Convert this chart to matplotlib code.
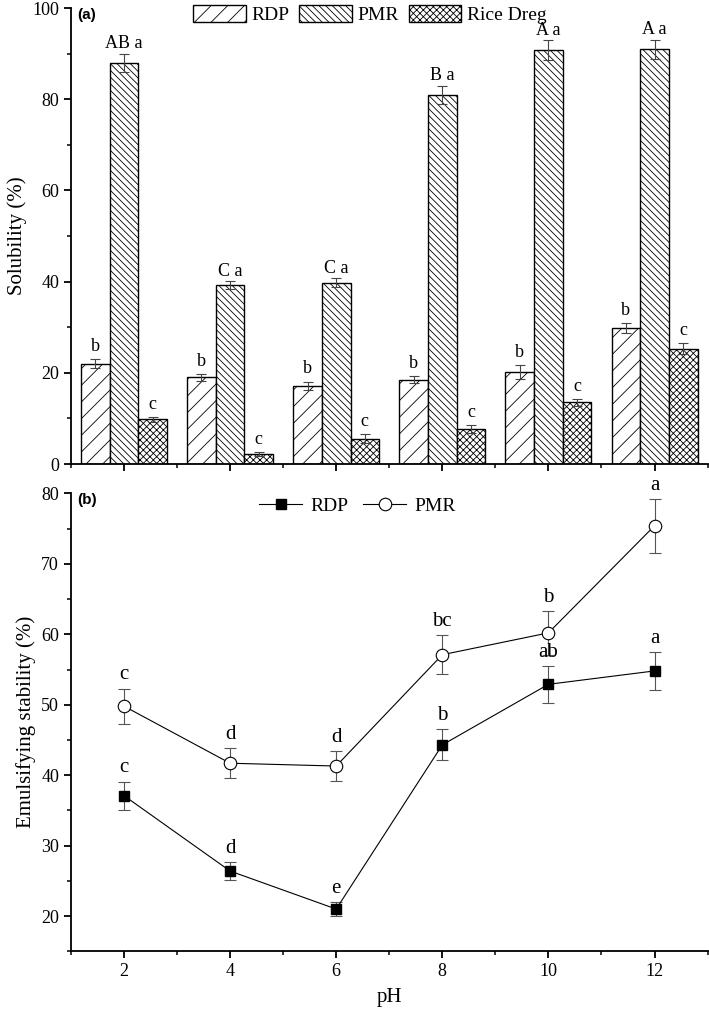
import numpy as np
import matplotlib
matplotlib.use("Agg")
import matplotlib.pyplot as plt
from matplotlib.ticker import MultipleLocator
from matplotlib.patches import Patch
from matplotlib.lines import Line2D

plt.rcParams.update({"font.family": "Liberation Serif", "font.size": 13,
                     "hatch.linewidth": 0.6})

PH = [2, 4, 6, 8, 10, 12]

# (a) solubility
SOL_RDP = [22.0, 19.0, 17.2, 18.5, 20.2, 29.8]
SOL_RDP_ERR = [1.0, 0.8, 0.9, 0.8, 1.5, 1.1]
SOL_PMR = [88.0, 39.2, 39.8, 81.0, 90.8, 91.0]
SOL_PMR_ERR = [2.0, 0.9, 1.0, 2.0, 2.2, 2.1]
SOL_RICE = [9.8, 2.2, 5.6, 7.7, 13.5, 25.3]
SOL_RICE_ERR = [0.5, 0.5, 0.9, 0.9, 0.7, 1.2]
LAB_RDP = ["b", "b", "b", "b", "b", "b"]
LAB_PMR = ["AB a", "C a", "C a", "B a", "A a", "A a"]
LAB_RICE = ["c", "c", "c", "c", "c", "c"]

# (b) emulsifying stability
ES_RDP = [37.1, 26.4, 21.0, 44.3, 52.9, 54.8]
ES_RDP_ERR = [2.0, 1.3, 1.0, 2.2, 2.6, 2.7]
ES_PMR = [49.8, 41.7, 41.3, 57.1, 60.2, 75.4]
ES_PMR_ERR = [2.5, 2.1, 2.1, 2.8, 3.1, 3.8]
ES_LAB_RDP = ["c", "d", "e", "b", "ab", "a"]
ES_LAB_PMR = ["c", "d", "d", "bc", "b", "a"]

fig = plt.figure(figsize=(7.09, 10.11), dpi=100)
ax1 = fig.add_axes([0.100, 0.541, 0.898, 0.451])
ax2 = fig.add_axes([0.100, 0.059, 0.898, 0.453])

for ax in (ax1, ax2):
    for s in ("top", "right"):
        ax.spines[s].set_visible(False)
    for s in ("left", "bottom"):
        ax.spines[s].set_linewidth(1.3)
    ax.set_xlim(1, 13)
    ax.xaxis.set_major_locator(MultipleLocator(2))
    ax.xaxis.set_minor_locator(MultipleLocator(1))
    ax.tick_params(which="major", direction="out", length=5, width=1.3)
    ax.tick_params(which="minor", direction="out", length=3, width=1.1)

# ── (a) bars ───────────────────────────────────────────────
x = np.array(PH, dtype=float)
w = 0.54
ekw = dict(ecolor="#444444", elinewidth=0.8, capsize=3.5, capthick=0.8)
series = [(SOL_RDP, SOL_RDP_ERR, "//", "RDP", LAB_RDP, -w, 3),
          (SOL_PMR, SOL_PMR_ERR, "\\\\\\\\\\", "PMR", LAB_PMR, 0.0, 1),
          (SOL_RICE, SOL_RICE_ERR, "xxxxx", "Rice Dreg", LAB_RICE, w, 3)]
handles = []
for vals, errs, hatch, name, labs, off, pad in series:
    ax1.bar(x + off, vals, w, yerr=errs, facecolor="white", edgecolor="black",
            linewidth=1.0, hatch=hatch, error_kw=ekw, zorder=2)
    for xi, v, e, t in zip(x + off, vals, errs, labs):
        ax1.annotate(t, (xi, v + e), xytext=(0, pad), textcoords="offset points",
                     ha="center", va="bottom", fontsize=13)
    handles.append(Patch(facecolor="white", edgecolor="black", hatch=hatch,
                         linewidth=1.0, label=name))

ax1.set_ylim(0, 100)
ax1.yaxis.set_major_locator(MultipleLocator(20))
ax1.yaxis.set_minor_locator(MultipleLocator(10))
ax1.set_xticklabels([])
ax1.set_ylabel("Solubility (%)", fontsize=15, labelpad=4)
ax1.legend(handles=handles, loc="upper center", bbox_to_anchor=(0.47, 1.045),
           ncol=3, frameon=False, fontsize=14, handlelength=2.7,
           handleheight=1.0, columnspacing=0.5, handletextpad=0.3)
ax1.text(0.01, 1.0, "(a)", transform=ax1.transAxes, fontsize=11,
         fontweight="bold", family="Liberation Sans", va="top")

# ── (b) lines ──────────────────────────────────────────────
ebk = dict(elinewidth=0.8, capsize=4, capthick=0.8, ecolor="#555555")
ax2.errorbar(PH, ES_RDP, yerr=ES_RDP_ERR, color="black", lw=0.8, marker="s",
             ms=7, mfc="black", mec="black", label="RDP", zorder=3, **ebk)
ax2.errorbar(PH, ES_PMR, yerr=ES_PMR_ERR, color="black", lw=0.8, marker="o",
             ms=9, mfc="white", mec="black", mew=0.8, label="PMR", zorder=3,
             **ebk)
for xi, v, e, t in zip(PH, ES_RDP, ES_RDP_ERR, ES_LAB_RDP):
    ax2.annotate(t, (xi, v + e), xytext=(0, 3), textcoords="offset points",
                 ha="center", va="bottom", fontsize=15)
for xi, v, e, t in zip(PH, ES_PMR, ES_PMR_ERR, ES_LAB_PMR):
    ax2.annotate(t, (xi, v + e), xytext=(0, 3), textcoords="offset points",
                 ha="center", va="bottom", fontsize=15)

ax2.set_ylim(15, 80)
ax2.yaxis.set_major_locator(MultipleLocator(10))
ax2.yaxis.set_minor_locator(MultipleLocator(5))
ax2.set_xlabel("pH", fontsize=15, labelpad=6)
ax2.set_ylabel("Emulsifying stability (%)", fontsize=15, labelpad=4)
leg_h = [Line2D([], [], color="black", lw=0.8, marker="s", ms=7, mfc="black"),
         Line2D([], [], color="black", lw=0.8, marker="o", ms=9, mfc="white",
                mew=0.8)]
ax2.legend(leg_h, ["RDP", "PMR"], loc="upper center",
           bbox_to_anchor=(0.45, 1.03), ncol=2, frameon=False, fontsize=14,
           handlelength=2.2, columnspacing=0.8, handletextpad=0.4)
ax2.text(0.01, 1.0, "(b)", transform=ax2.transAxes, fontsize=11,
         fontweight="bold", family="Liberation Sans", va="top")

for ax in (ax1, ax2):
    for lab in ax.get_xticklabels() + ax.get_yticklabels():
        lab.set_fontsize(13)

fig.savefig("out.png", dpi=100)
